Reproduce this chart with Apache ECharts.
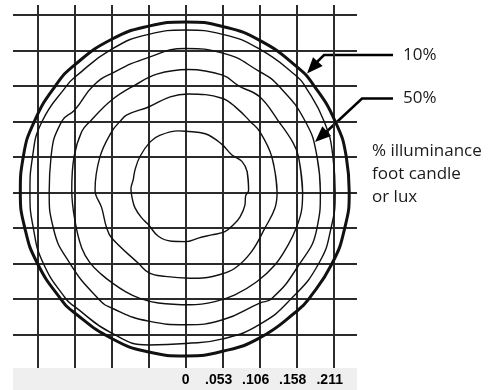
<!DOCTYPE html>
<html>
<head>
<meta charset="utf-8">
<script src="https://cdn.jsdelivr.net/npm/echarts@6/dist/echarts.min.js"></script>
<style>
html,body{margin:0;padding:0;background:#fff;}
#chart{width:504px;height:390px;}
</style>
</head>
<body>
<div id="chart"></div>
<script>
// x tick labels (grid units 0..4 on the x axis)
const xTickLabels = ['0', '.053', '.106', '.158', '.211'];

// annotation texts
const arrowLabels = ['10%', '50%'];
const noteLines = ['% illuminance', 'foot candle', 'or lux'];

// iso-illuminance contours, [x, y] in grid units (one grid cell = .053)
const contour1 = [
  [1.70,0.06],[1.66,0.58],[1.52,0.87],[1.25,1.05],[0.98,1.35],[0.53,1.65],[0,1.72],[-0.2,1.73],
  [-0.69,1.61],[-0.96,1.42],[-1.24,1.0],[-1.37,0.63],[-1.42,0.35],[-1.48,0.1],[-1.45,-0.15],[-1.37,-0.44],
  [-1.19,-0.72],[-1.01,-0.91],[-0.74,-1.24],[-0.38,-1.38],[0,-1.39],[0.34,-1.29],[0.7,-1.2],
  [1.06,-1.11],[1.3,-0.9],[1.47,-0.69],[1.6,-0.36],[1.62,-0.1]
];
const contour2 = [
  [2.47,0],[2.33,0.99],[2.0,1.71],[1.75,1.99],[1.4,2.35],[0.98,2.65],[0.07,2.77],[-0.42,2.69],
  [-0.99,2.41],[-1.59,2.18],[-1.78,1.99],[-2.0,1.71],[-2.32,0.99],[-2.45,0.06],[-2.27,-0.44],
  [-2.14,-0.99],[-2.0,-1.29],[-1.28,-2.0],[-0.99,-2.27],[-0.56,-2.37],[0.12,-2.42],[0.34,-2.42],
  [0.88,-2.33],[1.33,-2.14],[1.78,-1.67],[2.14,-1.01],[2.41,-0.45]
];
const contour3 = [
  [3.16,0],[3.05,1],[2.9,1.4],[2.51,2],[2.0,2.69],[1.43,3],[1.0,3.3],[0.07,3.46],[-0.78,3.33],
  [-1.37,3.02],[-2.0,2.6],[-2.59,1.99],[-2.81,1.71],[-3.02,0.99],[-3.08,0.06],
  [-2.99,-0.82],[-2.81,-1.57],[-2.59,-1.98],[-2.27,-2.32],[-1.99,-2.55],[-1.64,-2.79],[-1.24,-2.99],
  [-0.74,-3.12],[0.12,-3.17],[0.79,-3.08],[1.33,-2.89],[1.92,-2.52],[2.41,-2.05],[2.77,-1.48],
  [3.0,-0.97],[3.14,-0.45]
];
const contour4 = [
  [3.64,0],[3.55,1],[3.23,2],[2.51,3],[2.0,3.4],[1.0,3.92],[0,4.05],
  [-1,3.8],[-2,3.35],[-2.5,3],[-3,2.32],[-3.35,2],[-3.64,1],[-3.69,0],[-3.58,-1],[-3.13,-2],
  [-2.36,-3],[-2,-3.26],[-1,-3.63],[0,-3.73],[1,-3.59],[2,-3.12],[2.32,-3],[3,-2.14],
  [3.55,-1]
];
const contour5 = [
  [4.04,0],[3.98,1],[3.74,2],[3.22,3],[3.0,3.27],[2.0,4.03],[1.0,4.45],[0,4.57],[-1,4.45],
  [-2,4.03],[-3,3.24],[-3.22,3],[-3.88,2],[-4.14,1],[-4.21,0],[-4.12,-1],[-3.85,-2],
  [-3.24,-3],[-3,-3.22],[-2,-3.97],[-1,-4.30],[0,-4.26],[1,-4.13],[2,-3.72],[2.85,-3],
  [3.6,-2],[3.93,-1]
];
const contour6 = [
  [4.42,0],[4.34,1],[4.04,2],[3.47,3],[3.0,3.54],[2.0,4.28],[1.0,4.67],[0,4.80],[-1,4.68],
  [-2,4.31],[-3,3.59],[-3.52,3],[-4.09,2],[-4.39,1],[-4.47,0],[-4.35,-1],[-4.01,-2],
  [-3.38,-3],[-3.0,-3.40],[-2,-4.12],[-1,-4.50],[0,-4.61],[1,-4.48],[2,-4.10],[3.0,-3.35],
  [3.33,-3],[3.96,-2],[4.30,-1]
];

const contours = [contour1, contour2, contour3, contour4, contour5, contour6];

const chart = echarts.init(document.getElementById('chart'), null, {renderer: 'canvas'});

function arrowHead(tip, from, len, halfW) {
  const dx = tip[0] - from[0], dy = tip[1] - from[1];
  const d = Math.sqrt(dx * dx + dy * dy);
  const ux = dx / d, uy = dy / d;
  const bx = tip[0] - ux * len, by = tip[1] - uy * len;
  return [tip, [bx - uy * halfW, by + ux * halfW], [bx + uy * halfW, by - ux * halfW]];
}

const gridLine = {color: '#2b2b2b', width: 2};

const series = contours.map((c, i) => ({
  type: 'line',
  data: c.concat([c[0], c[1]]),
  showSymbol: false,
  symbol: 'none',
  smooth: i >= 3 ? 0.5 : 0.4,
  smoothMonotone: null,
  silent: true,
  clip: false,
  lineStyle: {color: '#111', width: i === 5 ? 3 : 1.4},
  z: 5
}));

const textStyleBase = {fontFamily: 'Open Sans', fontSize: 17, fill: '#1a1a1a'};

const graphics = [
  {type: 'rect', z: -10, shape: {x: 13, y: 368, width: 344, height: 22}, style: {fill: '#efefef'}},
  // 10% arrow
  {type: 'polyline', shape: {points: [[393, 55], [324, 55], [314, 65]]}, style: {stroke: '#000', lineWidth: 2.5, fill: null}},
  {type: 'polygon', shape: {points: arrowHead([307, 73.5], [324, 55], 16, 6.5)}, style: {fill: '#000'}},
  // 50% arrow
  {type: 'polyline', shape: {points: [[393, 98.5], [362, 98.5], [324, 134]]}, style: {stroke: '#000', lineWidth: 2.5, fill: null}},
  {type: 'polygon', shape: {points: arrowHead([315, 142], [362, 98.5], 16, 6.5)}, style: {fill: '#000'}},
  {type: 'text', x: 403, y: 55, style: Object.assign({text: arrowLabels[0], verticalAlign: 'middle'}, textStyleBase)},
  {type: 'text', x: 403, y: 98, style: Object.assign({text: arrowLabels[1], verticalAlign: 'middle'}, textStyleBase)},
  {type: 'text', x: 372, y: 151, style: Object.assign({text: noteLines[0], verticalAlign: 'middle'}, textStyleBase)},
  {type: 'text', x: 372, y: 174, style: Object.assign({text: noteLines[1], verticalAlign: 'middle'}, textStyleBase)},
  {type: 'text', x: 372, y: 197, style: Object.assign({text: noteLines[2], verticalAlign: 'middle'}, textStyleBase)}
];

const labelFont = {color: '#000', fontWeight: 'bold', fontSize: 14, fontFamily: 'Liberation Sans'};

chart.setOption({
  animation: false,
  backgroundColor: '#ffffff',
  grid: {left: 13, right: 147, top: 5, bottom: 22, containLabel: false},
  xAxis: {
    type: 'value',
    min: -4.668, max: 4.63,
    minInterval: 1, maxInterval: 1,
    axisLine: {show: false},
    axisTick: {show: false},
    splitLine: {show: true, showMinLine: false, showMaxLine: false, lineStyle: gridLine},
    axisLabel: Object.assign({
      show: true,
      margin: 5,
      showMinLabel: false, showMaxLabel: false,
      rich: {
        z: Object.assign({}, labelFont),
        d: Object.assign({padding: [0, 8, 0, 0]}, labelFont)
      },
      formatter: function (v) {
        const r = Math.round(v);
        if (Math.abs(v - r) > 1e-6) return '';
        if (r < 0 || r >= xTickLabels.length) return '';
        return (r === 0 ? '{z|' : '{d|') + xTickLabels[r] + '}';
      }
    }, labelFont)
  },
  yAxis: {
    type: 'value',
    min: -4.95, max: 5.276,
    minInterval: 1, maxInterval: 1,
    axisLine: {show: false},
    axisTick: {show: false},
    axisLabel: {show: false},
    splitLine: {show: true, showMinLine: false, showMaxLine: false, lineStyle: gridLine}
  },
  series: series,
  graphic: graphics
});
</script>
</body>
</html>
